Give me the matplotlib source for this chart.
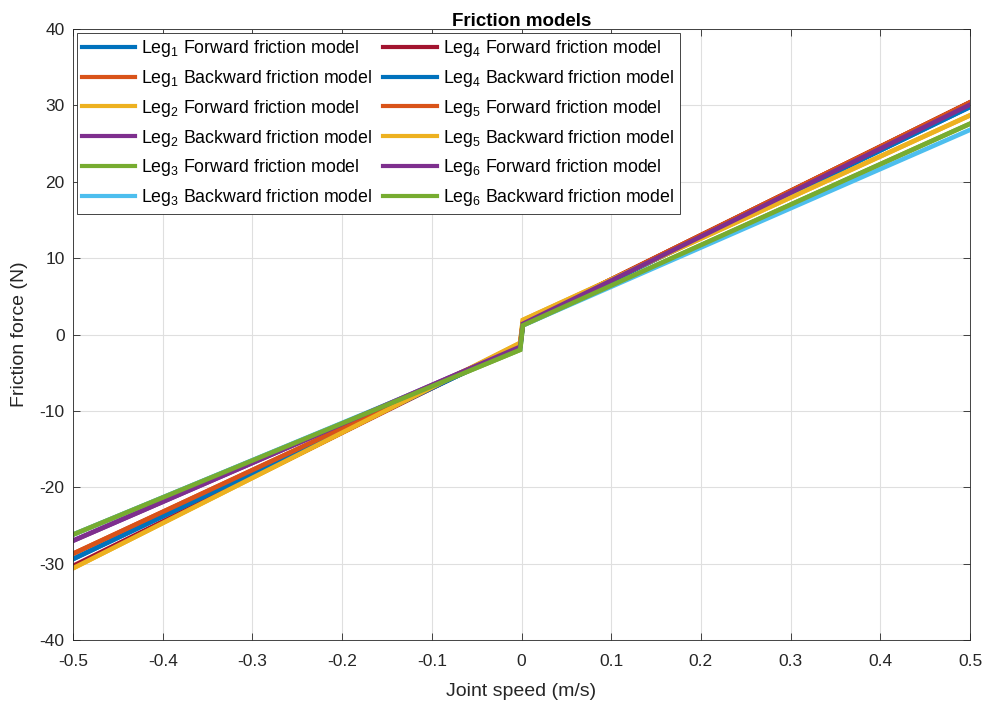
import matplotlib.pyplot as plt
import numpy as np

plt.rcParams['font.family'] = ['Liberation Sans', 'DejaVu Sans']
plt.rcParams['mathtext.default'] = 'regular'
plt.rcParams['axes.unicode_minus'] = False

legs = [1, 1, 2, 2, 3, 3, 4, 4, 5, 5, 6, 6]
kinds = ['Forward', 'Backward'] * 6
line_colors = ['#0072BD', '#D95319', '#EDB120', '#7E2F8E', '#77AC30', '#4DBEEE',
               '#A2142F', '#0072BD', '#D95319', '#EDB120', '#7E2F8E', '#77AC30']

# friction at v = -0.5, just below 0, just above 0, v = 0.5  (N)
f_neg_end = [-29.4, -28.7, -30.6, -27.0, -26.2, -26.2, -30.3, -29.4, -28.7, -30.6, -27.0, -26.2]
f_neg_zero = [-1.5, -1.4, -1.1, -1.6, -2.0, -1.9, -1.3, -1.5, -1.4, -1.1, -1.6, -2.0]
f_pos_zero = [1.4, 1.5, 1.9, 1.4, 1.2, 1.2, 1.5, 1.4, 1.5, 1.9, 1.4, 1.2]
f_pos_end = [29.8, 30.4, 28.7, 30.1, 27.6, 26.8, 30.4, 29.8, 30.4, 28.7, 30.1, 27.6]

speed = [-0.5, -0.0015, 0.0015, 0.5]

fig = plt.figure(figsize=(9.84, 7.08), dpi=100)
ax = fig.add_axes([0.0742, 0.096, 0.9116, 0.863])

for i in range(12):
    force = [f_neg_end[i], f_neg_zero[i], f_pos_zero[i], f_pos_end[i]]
    ax.plot(speed, force, color=line_colors[i], lw=3.3, solid_joinstyle='miter',
            label='Leg$_{%d}$ %s friction model' % (legs[i], kinds[i]))

ax.set_xlim(-0.5, 0.5)
ax.set_ylim(-40, 40)
ax.set_xticks(np.arange(-0.5, 0.51, 0.1))
ax.set_xticklabels(['-0.5', '-0.4', '-0.3', '-0.2', '-0.1', '0', '0.1', '0.2', '0.3', '0.4', '0.5'])
ax.set_yticks(np.arange(-40, 41, 10))
ax.grid(True, color='#dfdfdf', lw=0.8)
ax.set_axisbelow(True)
ax.tick_params(direction='in', top=True, right=True, length=5, labelsize=12.5,
               colors='#262626', width=0.6)
ax.tick_params(axis='x', pad=10)
ax.tick_params(axis='y', pad=6)
for s in ax.spines.values():
    s.set_color('#262626')
    s.set_linewidth(0.6)

ax.set_title('Friction models', fontsize=13.5, fontweight='bold', pad=2)
ax.set_xlabel('Joint speed (m/s)', fontsize=14, color='#262626', labelpad=10)
ax.set_ylabel('Friction force (N)', fontsize=14, color='#262626', labelpad=8)

leg = ax.legend(loc='upper left', ncol=2, fontsize=12.8, fancybox=False, framealpha=1,
                edgecolor='#262626', handlelength=3.0, columnspacing=0.6,
                labelspacing=0.5, borderaxespad=0.2, handletextpad=0.35,
                borderpad=0.3)
leg.get_frame().set_linewidth(0.6)
for h in leg.get_lines():
    h.set_linewidth(3)

fig.savefig('out.png', dpi=100)
